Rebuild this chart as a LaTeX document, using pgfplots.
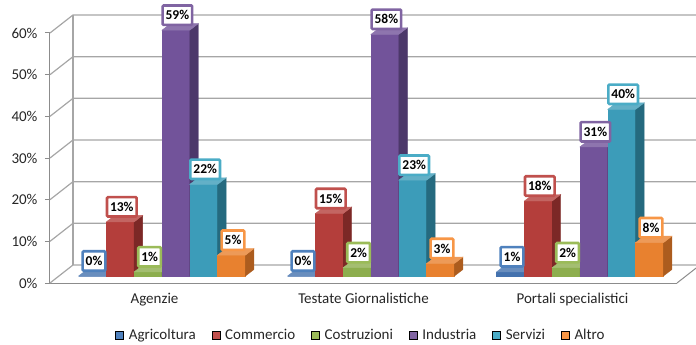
\documentclass[border=0pt]{standalone}
\usepackage{pgfplots}
\pgfplotsset{compat=1.18}
\usepackage{pgfplotstable}
\usepackage{fontspec}
\setmainfont{Carlito}
\pgfdeclareplotmark{nothing}{}

\definecolor{gridc}{HTML}{A6A6A6}
\definecolor{axc}{HTML}{8C8C8C}
\definecolor{txt}{HTML}{262626}
\definecolor{cA}{HTML}{4F81BD}
\definecolor{cB}{HTML}{C0504D}
\definecolor{cC}{HTML}{9BBB59}
\definecolor{cD}{HTML}{8064A2}
\definecolor{cE}{HTML}{4BACC6}
\definecolor{cF}{HTML}{F79646}
\definecolor{fA}{HTML}{4472AE}
\definecolor{fB}{HTML}{B43E3B}
\definecolor{fC}{HTML}{8DAE4E}
\definecolor{fD}{HTML}{72539A}
\definecolor{fE}{HTML}{3C9CB9}
\definecolor{fF}{HTML}{E8812F}
\definecolor{sA}{HTML}{2E5282}
\definecolor{sB}{HTML}{7C2826}
\definecolor{sC}{HTML}{637C34}
\definecolor{sD}{HTML}{4C386A}
\definecolor{sE}{HTML}{256A7F}
\definecolor{sF}{HTML}{AC5C1E}

\pgfplotstableread{
cat agr com cos ind ser alt
0 0 13 1 59 22 5
1 0 15 2 58 23 3
2 1 18 2 31 40 8
}\data

\def\bwid{27.8}
\def\uyl{4.16667}
\def\bfx{7.5}
\def\bfy{7}
\def\bdx{8.5}
\def\bdy{6.5}

\tikzset{lbl/.style={fill=white, line width=2.6pt, rounded corners=1pt,
  font=\bfseries\fontsize{13.5}{15}\selectfont, text=black,
  inner xsep=3pt, inner ysep=5pt}}

\newcommand\barseries[4]{%
\addplot[forget plot, scatter, only marks, mark=nothing, point meta=y,
  visualization depends on={rawy \as \val},
  scatter/@pre marker code/.code={%
    \pgfmathsetmacro\bh{\val*\uyl}%
    \pgfmathsetmacro\xl{(#2-2.5)*\bwid+\bfx-\bwid/2}%
    \pgfmathsetmacro\xr{\xl+\bwid}%
    \pgfmathsetmacro\yb{\bfy-\bh}%
    \pgfmathsetmacro\xrr{\xr+\bdx}%
    \pgfmathsetmacro\xll{\xl+\bdx}%
    \pgfmathsetmacro\ytt{\bfy+\bdy}%
    \pgfmathsetmacro\ybb{\yb+\bdy}%
    \fill[#3] (\xl pt,\yb pt) rectangle (\xr pt,\bfy pt);
    \fill[#4] (\xr pt,\yb pt) -- (\xrr pt,\ybb pt) -- (\xrr pt,\ytt pt) -- (\xr pt,\bfy pt) -- cycle;
    \fill[#3!80!white] (\xl pt,\bfy pt) -- (\xr pt,\bfy pt) -- (\xrr pt,\ytt pt) -- (\xll pt,\ytt pt) -- cycle;
  },
  scatter/@post marker code/.code={}]
  table[x=cat,y=#1]{\data};
}

\newcommand\labelseries[3]{%
\addplot[forget plot, scatter, only marks, mark=nothing, point meta=y,
  visualization depends on={rawy \as \val},
  scatter/@pre marker code/.code={%
    \pgfmathsetmacro\lx{(#2-2.5)*\bwid+\bfx+1.5}%
    \pgfmathsetmacro\ly{\bfy+15}%
    \node[lbl, draw=#3] at (\lx pt,\ly pt) {\pgfmathprintnumber[fixed,precision=0,assume math mode=true]{\val}\%};
  },
  scatter/@post marker code/.code={}]
  table[x=cat,y=#1]{\data};
}

\begin{document}
\begin{tikzpicture}
\begin{axis}[
  x=209pt, y=4.16667pt,
  xmin=-0.5, xmax=2.5, ymin=0, ymax=60,
  clip=false,
  axis lines*=left,
  axis line style={axc, line width=1pt},
  xtick={0,1,2},
  xticklabels={Agenzie,Testate Giornalistiche,Portali specialistici},
  x tick style={draw=none},
  extra x ticks={-0.5,0.5,1.5,2.5},
  extra x tick labels={},
  extra x tick style={tick style={axc, line width=1pt}},
  ytick={0,10,20,30,40,50,60},
  yticklabels={0\%,10\%,20\%,30\%,40\%,50\%,60\%},
  y tick style={axc, line width=1pt},
  tick align=outside, major tick length=5pt,
  ticklabel style={font=\fontsize{15}{18}\selectfont, text=txt},
  yticklabel style={xshift=-4pt},
  xticklabel style={yshift=-2pt},
  legend columns=6,
  legend image code/.code={\fill[#1] (0pt,-4pt) rectangle (8pt,4pt);},
  legend style={at={(0.496,-0.208)}, anchor=center, draw=none, fill=none,
    font=\fontsize{15}{18}\selectfont, text=txt, inner sep=0pt,
    /tikz/every even column/.append style={column sep=14pt},
    /tikz/every odd column/.append style={column sep=3pt}},
]
\pgfplotsinvokeforeach{0,10,20,30,40,50,60}{
  \draw[gridc, line width=1.2pt] (axis cs:-0.5,#1) -- (axis cs:-0.38995,#1+4.32) -- (axis cs:2.63,#1+4.32);
}
\draw[gridc, line width=1.2pt] (axis cs:-0.38995,4.32) -- (axis cs:-0.38995,64.32);
\draw[axc, line width=1pt] (axis cs:2.5,0) -- (axis cs:2.61005,4.32);

\barseries{agr}{0}{fA}{sA}
\barseries{com}{1}{fB}{sB}
\barseries{cos}{2}{fC}{sC}
\barseries{ind}{3}{fD}{sD}
\barseries{ser}{4}{fE}{sE}
\barseries{alt}{5}{fF}{sF}

\labelseries{agr}{0}{cA}
\labelseries{com}{1}{cB}
\labelseries{cos}{2}{cC}
\labelseries{ind}{3}{cD}
\labelseries{ser}{4}{cE}
\labelseries{alt}{5}{cF}

\addlegendimage{fill=cA}\addlegendentry{Agricoltura}
\addlegendimage{fill=cB}\addlegendentry{Commercio}
\addlegendimage{fill=cC}\addlegendentry{Costruzioni}
\addlegendimage{fill=cD}\addlegendentry{Industria}
\addlegendimage{fill=cE}\addlegendentry{Servizi}
\addlegendimage{fill=cF}\addlegendentry{Altro}

\coordinate (bbA) at (axis cs:-0.73923,-14.64);
\coordinate (bbB) at (axis cs:2.59091,67.92);
\end{axis}
\pgfresetboundingbox
\useasboundingbox (bbA) rectangle (bbB);
\end{tikzpicture}
\end{document}
